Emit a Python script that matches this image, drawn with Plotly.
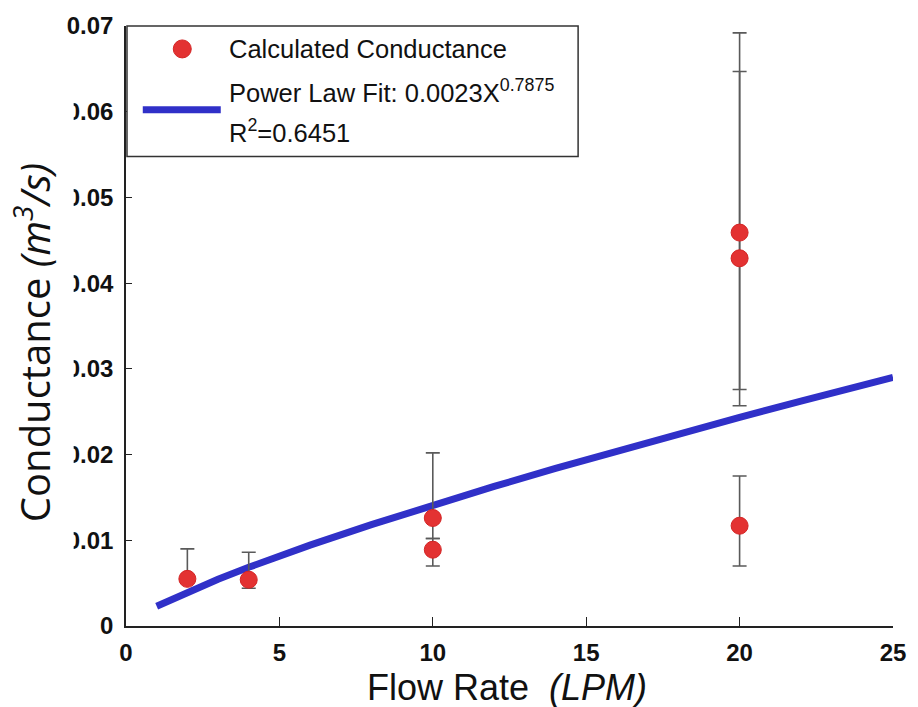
import plotly.graph_objects as go

# ---- data ----
flow_rate = [2, 4, 10, 10, 20, 20, 20]
conductance = [0.0055, 0.0054, 0.0126, 0.0089, 0.0459, 0.0429, 0.0117]
err_plus = [0.0035, 0.0032, 0.0076, 0.0013, 0.0233, 0.0218, 0.0058]
err_minus = [0.0005, 0.0010, 0.0024, 0.0019, 0.0183, 0.0172, 0.0047]

fit_x = [1, 2, 3, 4, 5, 6, 8, 10, 12, 14, 16, 18, 20, 22, 24, 25]
fit_y = [0.0023, 0.00397, 0.00546, 0.00685, 0.00817, 0.00943, 0.01183, 0.01410,
         0.01628, 0.01838, 0.02042, 0.02240, 0.02434, 0.02624, 0.02810, 0.0290]

x_ticks = [0, 5, 10, 15, 20, 25]
y_ticks = [0, 0.01, 0.02, 0.03, 0.04, 0.05, 0.06, 0.07]

legend_point = "Calculated Conductance"
legend_fit_1 = "Power Law Fit: 0.0023X<sup>0.7875</sup>"
legend_fit_2 = "R<sup>2</sup>=0.6451"

# ---- layout geometry (pixels) ----
W, H = 918, 707
L, R, T, B = 126, 15, 24, 81
PW, PH = W - L - R, H - T - B


def px(x):
    return (x - L) / PW


def py(y):
    return (H - B - y) / PH


fig = go.Figure()

fig.add_trace(go.Scatter(
    x=fit_x, y=fit_y, mode="lines",
    line=dict(color="#3030c8", width=7),
    showlegend=False, hoverinfo="skip",
))

fig.add_trace(go.Scatter(
    x=flow_rate, y=conductance, mode="markers",
    marker=dict(color="#e33232", size=17, line=dict(color="#d42424", width=1)),
    error_y=dict(type="data", symmetric=False, array=err_plus, arrayminus=err_minus,
                 color="#5a5a5a", thickness=1.6, width=7),
    showlegend=False,
))

axis_font = dict(family="Liberation Sans, Arial", size=24, color="#111111", weight="bold")

fig.update_layout(
    width=W, height=H,
    margin=dict(l=L, r=R, t=T, b=B, pad=0),
    paper_bgcolor="white", plot_bgcolor="white",
    showlegend=False,
    xaxis=dict(range=[0, 25], tickvals=x_ticks, ticks="inside", ticklen=9, tickwidth=1.2,
               tickcolor="#222", showline=True, linecolor="#222", linewidth=1.5,
               showgrid=False, zeroline=False, tickfont=axis_font, ticklabelstandoff=4,
               ticklabeloverflow="allow"),
    yaxis=dict(range=[0, 0.07], tickvals=y_ticks, ticks="inside", ticklen=6, tickwidth=1.2,
               tickcolor="#222", showline=True, linecolor="#222", linewidth=1.5,
               showgrid=False, zeroline=False, tickfont=axis_font, ticklabelstandoff=6,
               ticklabeloverflow="allow"),
)

shapes = []
# white mask that clips the y tick labels as in the reference
shapes.append(dict(type="rect", xref="paper", yref="paper", layer="above",
                   x0=px(0), x1=px(73), y0=py(585), y1=py(55),
                   fillcolor="white", line=dict(width=0)))
# legend box
shapes.append(dict(type="rect", xref="paper", yref="paper", layer="above",
                   x0=px(127), x1=px(584), y0=py(155), y1=py(24),
                   fillcolor="white", line=dict(color="#333", width=1.5)))
# legend marker
shapes.append(dict(type="circle", xref="paper", yref="paper", layer="above",
                   xsizemode="pixel", ysizemode="pixel",
                   xanchor=px(183), yanchor=py(47), x0=-9, x1=9, y0=-9, y1=9,
                   fillcolor="#e33232", line=dict(color="#d42424", width=1)))
# legend line
shapes.append(dict(type="line", xref="paper", yref="paper", layer="above",
                   x0=px(143), x1=px(222), y0=py(108), y1=py(108),
                   line=dict(color="#3030c8", width=7)))
fig.update_layout(shapes=shapes)

leg_font = dict(family="Liberation Sans, Arial", size=25.5, color="#111111")
ann = [
    dict(text=legend_point, x=px(228), y=py(47), xanchor="left", yanchor="middle",
         font=leg_font),
    dict(text=legend_fit_1, x=px(228), y=py(107), xanchor="left", yanchor="bottom",
         font=leg_font),
    dict(text=legend_fit_2, x=px(228), y=py(147), xanchor="left", yanchor="bottom",
         font=leg_font),
    dict(text="Flow Rate&nbsp;&nbsp;<i>(LPM)</i>", x=px(512), y=py(688),
         xanchor="center", yanchor="middle",
         font=dict(family="Liberation Sans, Arial", size=36, color="#111111")),
    dict(text="Conductance <i>(m<sup>3</sup>/s)</i>", x=px(32), y=py(342),
         xanchor="center", yanchor="middle", textangle=-90,
         font=dict(family="Open Sans", size=40, color="#111111")),
]
for a in ann:
    a.update(xref="paper", yref="paper", showarrow=False)
fig.update_layout(annotations=ann)

fig.write_html("out.html")
